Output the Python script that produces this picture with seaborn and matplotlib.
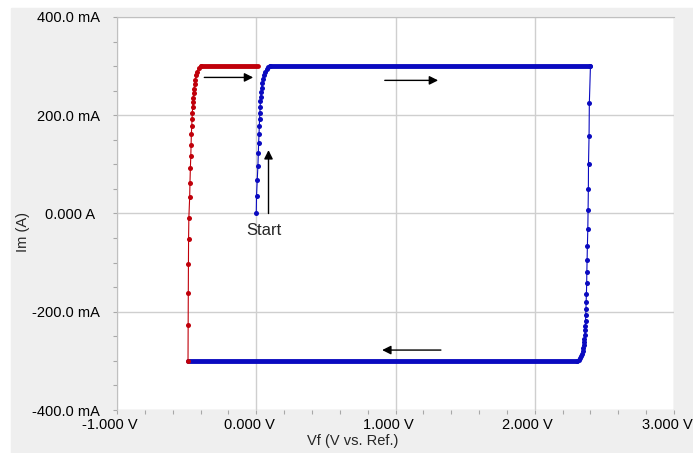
import matplotlib
matplotlib.use('Agg')
import matplotlib.pyplot as plt
import matplotlib.transforms as mtransforms
from matplotlib.patches import Rectangle
from matplotlib.ticker import AutoMinorLocator, FixedLocator
import pandas as pd
import seaborn as sns

# forward sweep, starts at 0 V / 0 A and hits the 300 mA limit
rise_blue_v = [0.000, 0.002, 0.007, 0.012, 0.015, 0.017, 0.020, 0.022, 0.024,
               0.026, 0.028, 0.030, 0.032, 0.035, 0.038, 0.042, 0.047, 0.054,
               0.063, 0.074, 0.086, 0.098]
rise_blue_i = [0, 36, 68, 97, 123, 143, 162, 178, 193, 205, 217, 228, 238,
               247, 256, 265, 274, 282, 289, 294, 298, 300]
top_blue_v = [0.098, 2.400]
top_blue_i = [300, 300]
# reverse sweep, current falls at ~2.39 V
fall_blue_v = [2.400, 2.392, 2.390, 2.386, 2.385, 2.383, 2.381, 2.378, 2.376,
               2.374, 2.373, 2.371, 2.369, 2.368, 2.366, 2.365, 2.363, 2.361,
               2.359, 2.357, 2.355, 2.352, 2.349, 2.345, 2.340, 2.334, 2.326,
               2.316, 2.300]
fall_blue_i = [300, 224, 158, 101, 50, 7, -32, -66, -94, -120, -142, -163,
               -181, -194, -207, -218, -229, -238, -247, -255, -262, -268,
               -274, -280, -285, -290, -295, -298, -300]
bottom_blue_v = [2.300, -0.490]
bottom_blue_i = [-300, -300]
# second forward sweep
rise_red_v = [-0.490, -0.489, -0.488, -0.487, -0.486, -0.484, -0.478, -0.476,
              -0.473, -0.470, -0.468, -0.466, -0.463, -0.461, -0.459, -0.457,
              -0.455, -0.453, -0.450, -0.447, -0.443, -0.438, -0.432, -0.424,
              -0.414, -0.400]
rise_red_i = [-300, -227, -162, -103, -52, -9, 34, 62, 93, 117, 139, 162, 178,
              192, 205, 216, 226, 236, 245, 254, 263, 272, 281, 289, 296, 300]
top_red_v = [-0.400, 0.010]
top_red_i = [300, 300]

x_ticks = [-1, 0, 1, 2, 3]
x_tick_labels = ['-1.000 V', '0.000 V', '1.000 V', '2.000 V', '3.000 V']
y_ticks = [-400, -200, 0, 200, 400]
y_tick_labels = ['-400.0 mA', '-200.0 mA', '0.000 A', '200.0 mA', '400.0 mA']

# (start, end) of the direction arrows, data coords
arrows = [((-0.373, 277), (-0.022, 277)),
          ((0.088, 0), (0.088, 129)),
          ((0.923, 271), (1.306, 271)),
          ((1.326, -278), (0.904, -278))]

BLUE = '#0a0ac0'
RED = '#c0000a'


def draw_branch(ax, v, i, color):
    df = pd.DataFrame({'v': v, 'i': i})
    sns.lineplot(data=df, x='v', y='i', sort=False, estimator=None,
                 color=color, lw=0.8, ax=ax)
    sns.scatterplot(data=df, x='v', y='i', color=color, s=13, linewidth=0,
                    ax=ax, zorder=4)


def draw_flat(ax, v, i, color):
    sns.lineplot(x=v, y=i, sort=False, estimator=None, color=color, lw=3.5,
                 solid_capstyle='round', ax=ax, zorder=4)


def main() -> None:
    sns.set_style('white')
    plt.rcParams['font.family'] = ['Liberation Sans', 'DejaVu Sans']
    plt.rcParams['font.size'] = 10.5

    fig = plt.figure(figsize=(6.93, 4.53), dpi=100, facecolor='white')
    fig.patches.append(Rectangle((11 / 693, 0), 1, 1 - 8 / 453,
                                 transform=fig.transFigure,
                                 color='#efefef', zorder=-10))
    ax = fig.add_axes([117 / 693, 1 - 410 / 453, 557 / 693, 393 / 453])
    ax.set_facecolor('white')

    draw_branch(ax, rise_blue_v, rise_blue_i, BLUE)
    draw_flat(ax, top_blue_v, top_blue_i, BLUE)
    draw_branch(ax, fall_blue_v, fall_blue_i, BLUE)
    draw_flat(ax, bottom_blue_v, bottom_blue_i, BLUE)
    draw_branch(ax, rise_red_v, rise_red_i, RED)
    draw_flat(ax, top_red_v, top_red_i, RED)

    for start, end in arrows:
        ax.annotate('', xy=end, xytext=start,
                    arrowprops=dict(arrowstyle='-|>', color='black', lw=1,
                                    mutation_scale=13, shrinkA=0, shrinkB=0))
    ax.text(0.057, -35, 'Start', fontsize=12, ha='center', va='center')

    ax.set_xlim(-1, 3)
    ax.set_ylim(-400, 400)
    ax.xaxis.set_major_locator(FixedLocator(x_ticks))
    ax.yaxis.set_major_locator(FixedLocator(y_ticks))
    ax.set_xticklabels(x_tick_labels)
    ax.set_yticklabels(y_tick_labels)
    ax.xaxis.set_minor_locator(AutoMinorLocator(5))
    ax.yaxis.set_minor_locator(AutoMinorLocator(4))
    ax.grid(True, which='major', color='#cfcfcf', lw=1)
    ax.tick_params(which='both', direction='out', colors='#a8a8a8',
                   labelcolor='black', length=3, width=0.8)
    ax.tick_params(axis='x', which='both', bottom=True, pad=3)
    ax.tick_params(axis='y', which='both', left=True, pad=9)

    for side in ['right', 'bottom']:
        ax.spines[side].set_visible(False)
    for side in ['left', 'top']:
        ax.spines[side].set_color('#c0c0c0')
        ax.spines[side].set_linewidth(0.8)

    # labels sit a little left of their ticks in the original
    shift = mtransforms.ScaledTranslation(-7 / 100, 0, fig.dpi_scale_trans)
    for lbl in ax.get_xticklabels():
        lbl.set_transform(lbl.get_transform() + shift)
    shift_a = mtransforms.ScaledTranslation(-5 / 100, 0, fig.dpi_scale_trans)
    for lbl in ax.get_yticklabels():
        if lbl.get_text() == '0.000 A':
            lbl.set_transform(lbl.get_transform() + shift_a)

    ax.set_xlabel('')
    ax.set_ylabel('')
    fig.text(307 / 693, 1 - 441 / 453, 'Vf (V vs. Ref.)', ha='left',
             va='center')
    fig.text(23 / 693, 1 - 232 / 453, 'Im (A)', rotation=90, ha='center',
             va='center')

    fig.savefig('out.png', dpi=100, facecolor=fig.get_facecolor())


if __name__ == '__main__':
    main()
